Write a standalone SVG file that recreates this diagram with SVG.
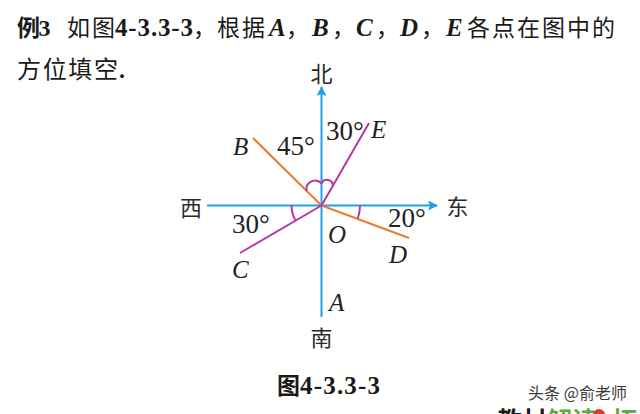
<svg xmlns="http://www.w3.org/2000/svg" width="640" height="414" viewBox="0 0 640 414">
<defs>
<style>
.cjk{font-family:"Noto Sans CJK SC","Noto Sans",sans-serif;fill:#1a1a1a}
.b{font-weight:bold}
.ser{font-family:"Liberation Serif","Times New Roman",serif;fill:#1a1a1a}
.it{font-style:italic}
.dir{font-family:"Noto Sans CJK SC",sans-serif;font-size:22px;fill:#2a2a2a;text-anchor:middle}
.lbl{font-family:"Liberation Serif","Times New Roman",serif;font-size:25px;fill:#222}
.deg{font-family:"Liberation Serif","Times New Roman",serif;font-size:27px;fill:#222}
.axis{stroke:#1fa3e0;stroke-width:2;fill:none}
.or{stroke:#ea7a2c;stroke-width:2;fill:none}
.mg{stroke:#b8379f;stroke-width:2;fill:none}
</style>
<marker id="arr" viewBox="0 0 10 10" refX="9" refY="5" markerWidth="11" markerHeight="10" markerUnits="userSpaceOnUse" orient="auto">
<path d="M0,0 L10,5 L0,10 L2,5 Z" fill="#1fa3e0"/>
</marker>
</defs>
<rect width="640" height="414" fill="#fff"/>

<g id="title">
<text x="17" y="36" class="cjk b" font-size="23">例</text>
<text x="38.5" y="36" class="ser b" font-size="24">3</text>
<text x="67" y="36" class="cjk" font-size="23" textLength="48" lengthAdjust="spacing">如图</text>
<text x="115" y="36" class="ser b" font-size="25" textLength="78" lengthAdjust="spacing">4-3.3-3</text>
<text x="193" y="36" class="cjk" font-size="23">，</text>
<text x="217" y="36" class="cjk" font-size="23" textLength="48" lengthAdjust="spacing">根据</text>
<text x="269" y="36" class="ser b it" font-size="25">A</text>
<text x="286" y="36" class="cjk" font-size="23">，</text>
<text x="312" y="36" class="ser b it" font-size="25">B</text>
<text x="332" y="36" class="cjk" font-size="23">，</text>
<text x="356" y="36" class="ser b it" font-size="25">C</text>
<text x="376" y="36" class="cjk" font-size="23">，</text>
<text x="400" y="36" class="ser b it" font-size="25">D</text>
<text x="421" y="36" class="cjk" font-size="23">，</text>
<text x="446" y="36" class="ser b it" font-size="25">E</text>
<text x="467" y="36" class="cjk" font-size="23" textLength="148" lengthAdjust="spacing">各点在图中的</text>
<text x="17" y="78" class="cjk" font-size="24" textLength="101" lengthAdjust="spacing">方位填空</text>
<text x="119" y="78" class="ser b" font-size="24">.</text>
</g>

<g id="connectors">
<line id="ns" class="axis" x1="321.5" y1="317" x2="321.5" y2="87" marker-end="url(#arr)"/>
<line id="we" class="axis" x1="207" y1="205.5" x2="437" y2="205.5" marker-end="url(#arr)"/>
<line id="OB" class="or" x1="321.5" y1="205.5" x2="253" y2="138"/>
<line id="OD" class="or" x1="321.5" y1="205.5" x2="409" y2="238"/>
<line id="OE" class="mg" x1="321.5" y1="205.5" x2="369" y2="123"/>
<line id="OC" class="mg" x1="321.5" y1="205.5" x2="240" y2="253"/>
<path class="mg" d="M306.6,190.6 A8.6,8.6 0 0 1 321.5,183.5"/>
<path class="mg" d="M321.5,183.5 A6,6 0 0 1 333,185.6"/>
<path class="mg" d="M291.5,205.5 A30,30 0 0 0 295.5,220.5"/>
<path class="mg" d="M360,205.5 A38.5,38.5 0 0 1 357.7,218.7"/>
</g>

<g id="north"><text x="321.5" y="82" class="dir">北</text></g>
<g id="west"><text x="191" y="216" class="dir">西</text></g>
<g id="east"><text x="457.5" y="215" class="dir">东</text></g>
<g id="south"><text x="321.5" y="346" class="dir">南</text></g>

<g id="node-B"><text x="233" y="155" class="lbl it" font-size="24">B</text></g>
<g id="node-E"><text x="371" y="138" class="lbl it" font-size="24">E</text></g>
<g id="node-O"><text x="328" y="243" class="lbl it">O</text></g>
<g id="node-D"><text x="389" y="263" class="lbl it">D</text></g>
<g id="node-C"><text x="232" y="278" class="lbl it">C</text></g>
<g id="node-A"><text x="329" y="311" class="lbl it" font-size="24">A</text></g>

<g id="angles">
<text x="277" y="155" class="deg">45°</text>
<text x="326" y="140" class="deg">30°</text>
<text x="232" y="233" class="deg">30°</text>
<text x="388" y="227" class="deg">20°</text>
</g>

<g id="caption">
<text x="277" y="394" class="cjk b" font-size="23">图</text>
<text x="300" y="394" class="ser b" font-size="25" textLength="80" lengthAdjust="spacing">4-3.3-3</text>
</g>

<g id="watermark">
<text x="528" y="399" font-family="Noto Sans CJK SC, sans-serif" font-size="16" fill="#3a3a3a" textLength="99" lengthAdjust="spacing">头条 @俞老师</text>
</g>
<g id="footer-cut">
<text x="497" y="430" class="cjk b" font-size="25">教材</text>
<text x="547" y="430" font-family="Noto Sans CJK SC, sans-serif" font-weight="bold" font-size="25" fill="#5aae3c">解读</text>
<circle cx="599" cy="415" r="6" fill="#e03a2a"/>
<text x="612" y="430" font-family="Noto Sans CJK SC, sans-serif" font-weight="bold" font-size="25" fill="#5aae3c">拓</text>
</g>
</svg>
